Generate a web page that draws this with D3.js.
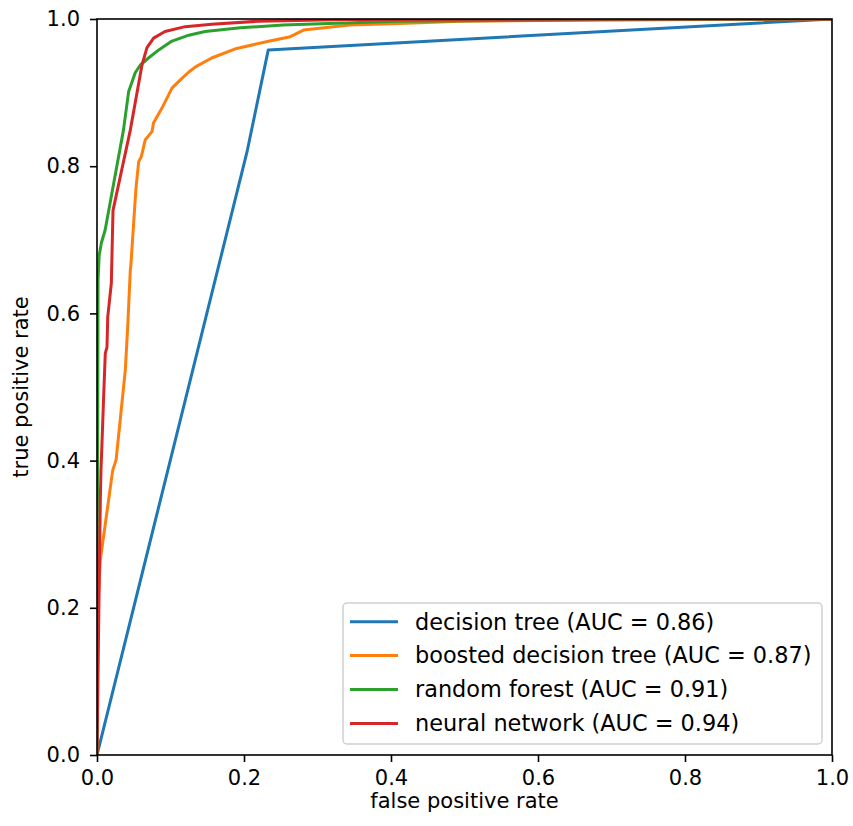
<!DOCTYPE html>
<html>
<head>
<meta charset="utf-8">
<script src="https://cdn.jsdelivr.net/npm/d3@7"></script>
<style>
  html, body { margin: 0; padding: 0; background: #fff; }
  svg text { font-family: "DejaVu Sans", sans-serif; fill: #000; }
</style>
</head>
<body>
<svg id="chart" width="853" height="826"></svg>
<script>
// ---- data ----
const seriesNames = [
  "decision tree (AUC = 0.86)",
  "boosted decision tree (AUC = 0.87)",
  "random forest (AUC = 0.91)",
  "neural network (AUC = 0.94)"
];
const seriesColors = ["#1f77b4", "#ff7f0e", "#2ca02c", "#d62728"];

const decisionTree = [
  [0, 0], [0.204, 0.819], [0.233, 0.958], [1, 1]
];
const boostedTree = [
  [0, 0], [0.001, 0.2], [0.0045, 0.265], [0.0214, 0.387], [0.026, 0.401],
  [0.0385, 0.523], [0.0418, 0.582], [0.0453, 0.659], [0.0459, 0.663],
  [0.053, 0.770], [0.0567, 0.806], [0.0603, 0.813], [0.0657, 0.836],
  [0.0748, 0.847], [0.077, 0.859], [0.0884, 0.879], [0.102, 0.906],
  [0.113, 0.917], [0.125, 0.928], [0.134, 0.935], [0.156, 0.947],
  [0.19, 0.960], [0.235, 0.970], [0.263, 0.976], [0.281, 0.985],
  [0.344, 0.992], [0.412, 0.994], [0.494, 0.997], [0.684, 0.9986], [1, 1]
];
const randomForest = [
  [0, 0], [0.0005, 0.3], [0.001, 0.45], [0.0014, 0.645], [0.003, 0.679],
  [0.006, 0.696], [0.011, 0.713], [0.036, 0.849], [0.043, 0.901],
  [0.052, 0.927], [0.059, 0.9375], [0.070, 0.947], [0.084, 0.958],
  [0.102, 0.970], [0.125, 0.978], [0.147, 0.983], [0.195, 0.988],
  [0.253, 0.992], [0.41, 0.997], [0.68, 0.999], [1, 1]
];
const neuralNetwork = [
  [0, 0], [0.001, 0.08], [0.002, 0.156], [0.0045, 0.346], [0.0054, 0.387],
  [0.0068, 0.424], [0.009, 0.486], [0.0113, 0.546], [0.0136, 0.554],
  [0.0146, 0.595], [0.0195, 0.641], [0.0218, 0.740], [0.0453, 0.849],
  [0.0612, 0.9375], [0.068, 0.961], [0.077, 0.974], [0.0925, 0.983],
  [0.12, 0.9896], [0.156, 0.993], [0.22, 0.997], [0.34, 0.9993], [1, 1]
];
const allSeries = [decisionTree, boostedTree, randomForest, neuralNetwork];

const xTicks = [0, 0.2, 0.4, 0.6, 0.8, 1.0];
const yTicks = [0, 0.2, 0.4, 0.6, 0.8, 1.0];
const xLabel = "false positive rate";
const yLabel = "true positive rate";

// ---- layout ----
const L = 97, R = 832, T = 19, B = 755;
const svg = d3.select("#chart");
const x = d3.scaleLinear().domain([0, 1]).range([L, R]);
const y = d3.scaleLinear().domain([0, 1]).range([B, T]);

svg.append("defs").append("clipPath").attr("id", "clip")
  .append("rect").attr("x", L).attr("y", T).attr("width", R - L).attr("height", B - T);

const line = d3.line().x(d => x(d[0])).y(d => y(d[1]));
const plot = svg.append("g").attr("clip-path", "url(#clip)");
allSeries.forEach((s, i) => {
  plot.append("path").datum(s)
    .attr("d", line)
    .attr("fill", "none")
    .attr("stroke", seriesColors[i])
    .attr("stroke-width", 3)
    .attr("stroke-linejoin", "round")
    .attr("stroke-linecap", "butt");
});

// axes
const xAxis = d3.axisBottom(x).tickValues(xTicks).tickFormat(d3.format(".1f")).tickSizeOuter(0).tickSize(7).tickPadding(8);
const yAxis = d3.axisLeft(y).tickValues(yTicks).tickFormat(d3.format(".1f")).tickSizeOuter(0).tickSize(7).tickPadding(10);
const gx = svg.append("g").attr("transform", `translate(0,${B})`).call(xAxis);
const gy = svg.append("g").attr("transform", `translate(${L},0)`).call(yAxis);
[gx, gy].forEach(g => {
  g.select(".domain").remove();
  g.selectAll(".tick line").attr("stroke", "#000").attr("stroke-width", 1.6);
  g.selectAll(".tick text").attr("font-size", 21).attr("font-family", "DejaVu Sans").attr("fill", "#000");
});
gx.selectAll(".tick text").attr("dy", "0.71em");

// spines
svg.append("rect").attr("x", L).attr("y", T).attr("width", R - L).attr("height", B - T)
  .attr("fill", "none").attr("stroke", "#000").attr("stroke-width", 1.6);

// axis labels
svg.append("text").attr("x", (L + R) / 2).attr("y", 808).attr("text-anchor", "middle")
  .attr("font-size", 21).text(xLabel);
svg.append("text").attr("transform", `translate(28,${(T + B) / 2}) rotate(-90)`)
  .attr("text-anchor", "middle").attr("font-size", 21).text(yLabel);

// legend
const lg = svg.append("g");
lg.append("rect").attr("x", 343).attr("y", 603).attr("width", 479).attr("height", 141)
  .attr("rx", 4).attr("fill", "#fff").attr("fill-opacity", 0.8)
  .attr("stroke", "#d0d0d0").attr("stroke-width", 1.5);
seriesNames.forEach((name, i) => {
  const yy = 621.7 + i * 33.9;
  lg.append("line").attr("x1", 350).attr("x2", 398).attr("y1", yy).attr("y2", yy)
    .attr("stroke", seriesColors[i]).attr("stroke-width", 3);
  lg.append("text").attr("x", 415).attr("y", yy).attr("dy", "0.35em")
    .attr("font-size", 22.4).text(name);
});
</script>
</body>
</html>
